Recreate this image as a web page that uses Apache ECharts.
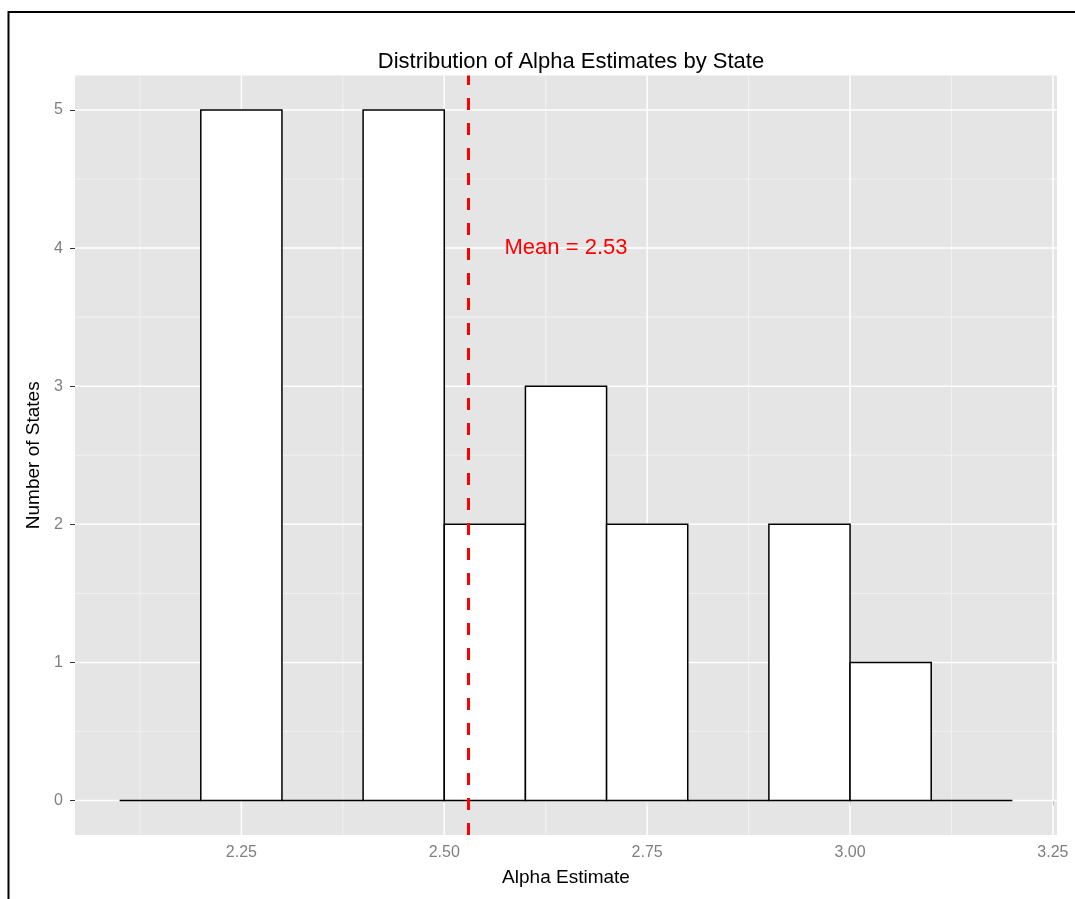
<!DOCTYPE html>
<html>
<head>
<meta charset="utf-8">
<script src="https://cdn.jsdelivr.net/npm/echarts@6/dist/echarts.min.js"></script>
<style>
  html, body { margin: 0; padding: 0; background: #fff; }
  #chart { width: 1075px; height: 899px; }
</style>
</head>
<body>
<div id="chart"></div>
<script>
// ---- data ----
const binStarts = [2.1, 2.2, 2.3, 2.4, 2.5, 2.6, 2.7, 2.8, 2.9, 3.0, 3.1];
const binWidth = 0.1;
const counts = [0, 5, 0, 5, 2, 3, 2, 0, 2, 1, 0];
const meanValue = 2.53;
const meanLabel = 'Mean = 2.53';
const meanLabelPos = [2.65, 4];
const xTicks = [2.25, 2.50, 2.75, 3.00, 3.25];
const xMinor = [2.125, 2.375, 2.625, 2.875, 3.125];
const yTicks = [0, 1, 2, 3, 4, 5];
const yMinor = [0.5, 1.5, 2.5, 3.5, 4.5];
const xRange = [2.045, 3.255];
const yRange = [-0.25, 5.25];
const titleText = 'Distribution of Alpha Estimates by State';
const xTitle = 'Alpha Estimate';
const yTitle = 'Number of States';

const FONT = '"Liberation Sans", Arial, sans-serif';
const barData = binStarts.map((s, i) => [s, +(s + binWidth).toFixed(2), counts[i]]);

function vLines(color, width) {
  return function (params, api) {
    const cs = params.coordSys;
    const x = api.coord([api.value(0), 0])[0];
    return { type: 'line', shape: { x1: x, y1: cs.y, x2: x, y2: cs.y + cs.height },
      style: { stroke: color, lineWidth: width }, silent: true };
  };
}
function hLines(color, width) {
  return function (params, api) {
    const cs = params.coordSys;
    const y = api.coord([xRange[0], api.value(0)])[1];
    return { type: 'line', shape: { x1: cs.x, y1: y, x2: cs.x + cs.width, y2: y },
      style: { stroke: color, lineWidth: width }, silent: true };
  };
}

const chart = echarts.init(document.getElementById('chart'), null, { renderer: 'canvas' });
chart.setOption({
  animation: false,
  backgroundColor: '#ffffff',
  title: {
    text: titleText, left: 566, top: 46, textAlign: 'center',
    textStyle: { fontFamily: FONT, fontSize: 22, fontWeight: 'normal', color: '#000' }
  },
  grid: { left: 75, right: 18, top: 75.5, bottom: 64, show: true, backgroundColor: '#E5E5E5', borderWidth: 0 },
  xAxis: {
    type: 'value', min: xRange[0], max: xRange[1],
    name: xTitle, nameLocation: 'middle', nameGap: 33,
    nameTextStyle: { fontFamily: FONT, fontSize: 19, color: '#000' },
    axisLine: { show: false },
    splitLine: { show: false },
    axisTick: { show: true, length: 5, lineStyle: { color: '#333', width: 1 }, customValues: xTicks },
    axisLabel: { customValues: xTicks, formatter: v => v.toFixed(2), margin: 10,
      fontFamily: FONT, fontSize: 16, color: '#7F7F7F' }
  },
  yAxis: {
    type: 'value', min: yRange[0], max: yRange[1],
    name: yTitle, nameLocation: 'middle', nameGap: 23, nameRotate: 90,
    nameTextStyle: { fontFamily: FONT, fontSize: 19, color: '#000' },
    axisLine: { show: false },
    splitLine: { show: false },
    axisTick: { show: true, length: 5, lineStyle: { color: '#333', width: 1 }, customValues: yTicks },
    axisLabel: { customValues: yTicks, margin: 12, fontFamily: FONT, fontSize: 16, color: '#7F7F7F' }
  },
  graphic: [{
    type: 'rect', z: 100, silent: true,
    shape: { x: 8.5, y: 12, width: 1100, height: 920 },
    style: { fill: 'none', stroke: '#000', lineWidth: 2 }
  }],
  series: [
    { type: 'custom', renderItem: vLines('#F2F2F2', 1), data: xMinor.map(v => [v]), encode: { x: 0 }, z: 1, silent: true },
    { type: 'custom', renderItem: hLines('#F2F2F2', 1), data: yMinor.map(v => [v]), encode: { y: 0 }, z: 1, silent: true },
    { type: 'custom', renderItem: vLines('#FFFFFF', 1.5), data: xTicks.map(v => [v]), encode: { x: 0 }, z: 2, silent: true },
    { type: 'custom', renderItem: hLines('#FFFFFF', 1.5), data: yTicks.map(v => [v]), encode: { y: 0 }, z: 2, silent: true },
    {
      type: 'custom', z: 3,
      data: barData,
      encode: { x: [0, 1], y: 2 },
      renderItem: function (params, api) {
        const p0 = api.coord([api.value(0), api.value(2)]);
        const p1 = api.coord([api.value(1), 0]);
        return { type: 'rect',
          shape: { x: p0[0], y: p0[1], width: p1[0] - p0[0], height: p1[1] - p0[1] },
          style: { fill: '#FFFFFF', stroke: '#000000', lineWidth: 1.5 } };
      },
      markLine: {
        silent: true, symbol: ['none', 'none'], label: { show: false },
        lineStyle: { color: '#FF0000', width: 3, type: [12, 13] },
        data: [{ xAxis: meanValue }],
        z: 5
      }
    },
    {
      type: 'custom', z: 6,
      data: [[meanLabelPos[0], meanLabelPos[1], meanLabel]],
      encode: { x: 0, y: 1 },
      renderItem: function (params, api) {
        const p = api.coord([api.value(0), api.value(1)]);
        return { type: 'text', x: p[0], y: p[1],
          style: { text: meanLabel, fill: '#FF0000', font: '22px ' + FONT, align: 'center', verticalAlign: 'middle' } };
      }
    }
  ]
});
</script>
</body>
</html>
